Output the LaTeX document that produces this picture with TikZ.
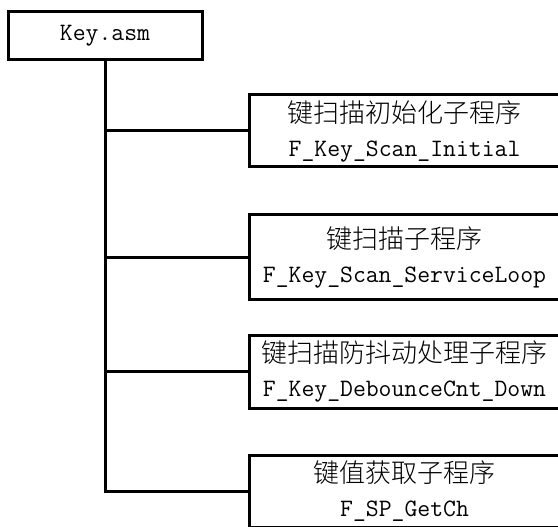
\documentclass[tikz,border=0pt]{standalone}
\usepackage{fontspec}
\newfontfamily\cjk{Noto Sans CJK SC Light}
\begin{document}
\begin{tikzpicture}[x=1pt,y=-1pt,
  box/.style={draw=black,line width=3pt,fill=white,outer sep=0pt,inner sep=0pt,
    anchor=north west,align=center,font=\fontsize{25}{34}\selectfont},
  conn/.style={draw=black,line width=3pt}]
\useasboundingbox (0,0) rectangle (558,527);
\clip (0,0) rectangle (558,527);
\fill[white] (0,0) rectangle (558,527);
\node[box,minimum width=194pt,minimum height=48pt] (key) at (8,12) {\ttfamily Key.asm};
\node[box,minimum width=311pt,minimum height=72pt] (b1) at (249,95)
  {{\cjk\fontsize{26}{34}\selectfont 键扫描初始化子程序}\\{\ttfamily F\_Key\_Scan\_Initial}};
\node[box,minimum width=311pt,minimum height=84pt] (b2) at (249,215)
  {{\cjk\fontsize{26}{34}\selectfont 键扫描子程序}\\{\ttfamily F\_Key\_Scan\_ServiceLoop}};
\node[box,minimum width=311pt,minimum height=73pt] (b3) at (249,335)
  {{\cjk\fontsize{26}{34}\selectfont 键扫描防抖动处理子程序}\\{\ttfamily F\_Key\_DebounceCnt\_Down}};
\node[box,minimum width=311pt,minimum height=72pt] (b4) at (249,455)
  {{\cjk\fontsize{26}{34}\selectfont 键值获取子程序}\\{\ttfamily F\_SP\_GetCh}};
\draw[conn] (key.south) |- (b4.west);
\draw[conn] (b1.west) -- (b1.west -| key.south);
\draw[conn] (b2.west) -- (b2.west -| key.south);
\draw[conn] (b3.west) -- (b3.west -| key.south);
\end{tikzpicture}
\end{document}
